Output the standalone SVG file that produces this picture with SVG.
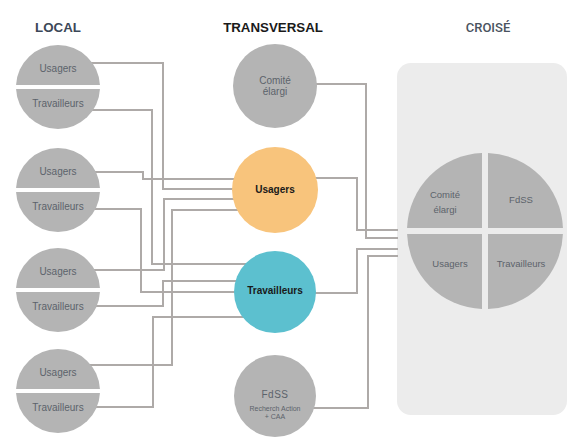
<svg xmlns="http://www.w3.org/2000/svg" width="573" height="437" viewBox="0 0 573 437">
<style>
.hd{font-family:"Liberation Sans",Arial,sans-serif;font-weight:bold;font-size:13.3px;text-anchor:middle}
.g{fill:#b4b4b4}
.lt{font-family:"Liberation Sans",Arial,sans-serif;font-size:10px;fill:#5c636b;text-anchor:middle}
.bt{font-family:"Liberation Sans",Arial,sans-serif;font-size:10px;font-weight:bold;fill:#1a1a1a;text-anchor:middle}
.cn{fill:none;stroke:#aeaaa8;stroke-width:2}
</style>
<rect width="573" height="437" fill="#ffffff"/>
<text class="hd" x="58" y="32" fill="#3c4858">LOCAL</text>
<text class="hd" x="273" y="32" fill="#1a1a1a">TRANSVERSAL</text>
<text x="488" y="32" font-family="Roboto,'Liberation Sans',sans-serif" font-weight="500" font-size="13" fill="#4a5360" text-anchor="middle">CROISÉ</text>

<g id="croise-panel">
<rect x="397" y="63" width="170" height="352" rx="14" fill="#ececec"/>
</g>

<g id="connectors" class="cn">
<polyline points="58,63 163,63 163,189 275,189"/>
<polyline points="58,110 152,110 152,264 275,264"/>
<polyline points="58,172 143,172 143,179 275,179"/>
<polyline points="58,209 141,209 141,292 275,292"/>
<polyline points="58,270 164,270 164,199 275,199"/>
<polyline points="58,306 163,306 163,281 275,281"/>
<polyline points="58,365 172,365 172,210 275,210"/>
<polyline points="58,407 153,407 153,317 275,317"/>
<polyline points="275,84 366,84 366,238 398,238"/>
<polyline points="275,178 357,178 357,230 398,230"/>
<polyline points="275,293 357,293 357,249 398,249"/>
<polyline points="275,408 368,408 368,256 398,256"/>
</g>

<g id="local-1">
<path class="g" d="M16.05,85 A42,42 0 0 1 99.95,85 Z"/>
<path class="g" d="M16.05,89 A42,42 0 0 0 99.95,89 Z"/>
<text class="lt" x="58" y="72">Usagers</text>
<text class="lt" x="58" y="107">Travailleurs</text>
</g>
<g id="local-2">
<path class="g" d="M16.05,188 A42,42 0 0 1 99.95,188 Z"/>
<path class="g" d="M16.05,192 A42,42 0 0 0 99.95,192 Z"/>
<text class="lt" x="58" y="175">Usagers</text>
<text class="lt" x="58" y="210">Travailleurs</text>
</g>
<g id="local-3">
<path class="g" d="M16.05,288 A42,42 0 0 1 99.95,288 Z"/>
<path class="g" d="M16.05,292 A42,42 0 0 0 99.95,292 Z"/>
<text class="lt" x="58" y="275">Usagers</text>
<text class="lt" x="58" y="310">Travailleurs</text>
</g>
<g id="local-4">
<path class="g" d="M16.05,389 A42,42 0 0 1 99.95,389 Z"/>
<path class="g" d="M16.05,393 A42,42 0 0 0 99.95,393 Z"/>
<text class="lt" x="58" y="376">Usagers</text>
<text class="lt" x="58" y="411">Travailleurs</text>
</g>

<g id="comite-elargi">
<circle class="g" cx="275" cy="86" r="42"/>
<text class="lt" x="275" y="84">Comité</text>
<text class="lt" x="275" y="95">élargi</text>
</g>
<g id="usagers">
<circle cx="275" cy="190" r="43" fill="#f8c47c"/>
<text class="bt" x="275" y="193">Usagers</text>
</g>
<g id="travailleurs">
<circle cx="275" cy="292" r="41" fill="#5cc0cf"/>
<text class="bt" x="275" y="294">Travailleurs</text>
</g>
<g id="fdss">
<circle class="g" cx="275" cy="396" r="41"/>
<text class="lt" x="275" y="398" letter-spacing="0.5">FdSS</text>
<text class="lt" x="275" y="411" style="font-size:7px">Recherch Action</text>
<text class="lt" x="275" y="419" style="font-size:7px">+ CAA</text>
</g>

<g id="croise">
<path class="g" d="M482,228 L482,153.06 A78,78 0 0 0 407.06,228 Z"/>
<path class="g" d="M488,228 L562.94,228 A78,78 0 0 0 488,153.06 Z"/>
<path class="g" d="M482,234 L407.06,234 A78,78 0 0 0 482,308.94 Z"/>
<path class="g" d="M488,234 L488,308.94 A78,78 0 0 0 562.94,234 Z"/>
<text class="lt" x="445" y="198" style="font-size:9.5px">Comité</text>
<text class="lt" x="445" y="213" style="font-size:9.5px">élargi</text>
<text class="lt" x="521" y="203" style="font-size:9.5px">FdSS</text>
<text class="lt" x="450" y="267" style="font-size:9.5px">Usagers</text>
<text class="lt" x="521" y="267" style="font-size:9.5px">Travailleurs</text>
</g>
</svg>
